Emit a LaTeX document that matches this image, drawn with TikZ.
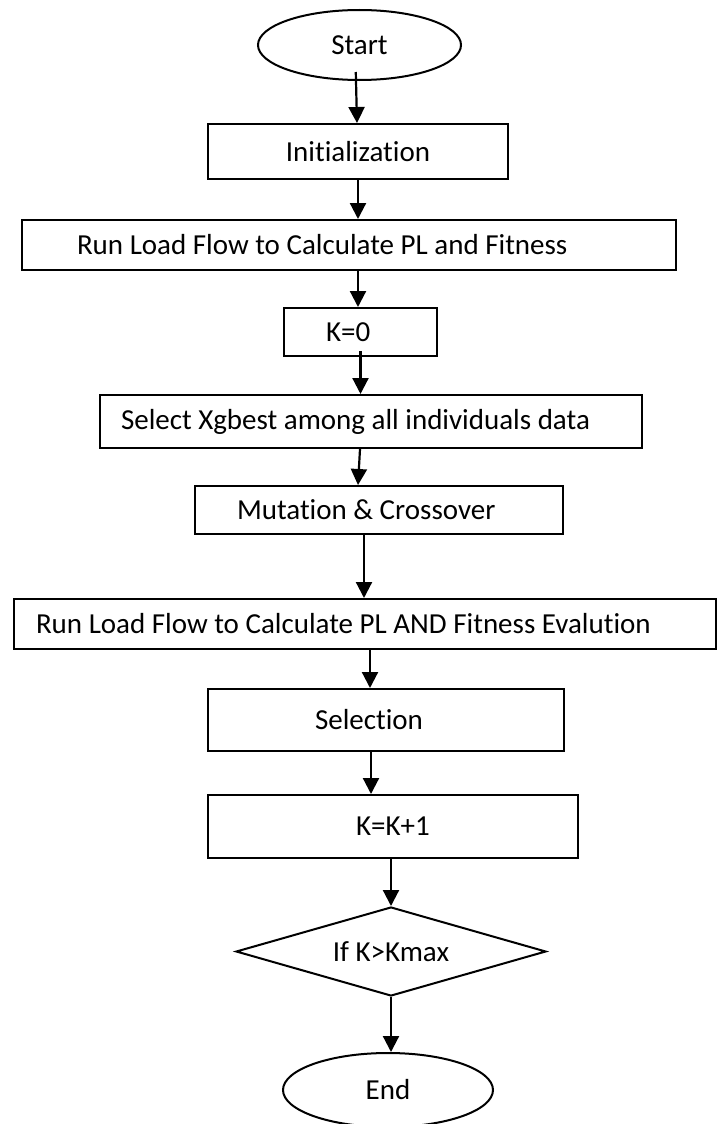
\documentclass[tikz,border=0pt]{standalone}
\usepackage{fontspec}
\setmainfont{Carlito}[Ligatures=NoCommon]
\usetikzlibrary{shapes.geometric,arrows.meta}

\begin{document}
\begin{tikzpicture}[x=1pt,y=-1pt,line width=2pt,
  every node/.style={font=\fontsize{29}{35}\selectfont},
  box/.style={draw,rectangle,anchor=west,inner ysep=2pt,align=flush left},
  arr/.style={-{Triangle[width=16pt,length=16pt]},line width=2.2pt}]
\useasboundingbox (0,0) rectangle (719,1124);
\node [ellipse,draw,minimum width=203pt,minimum height=70pt] (s) at (359.5,45) {Start};
\node [box,align=center,minimum width=300pt,minimum height=55pt] (i) at (207,151.5) {Initialization};
\node [box,text width=544pt,inner xsep=55pt,minimum height=50pt] (r) at (21,245) {Run Load Flow to Calculate PL and Fitness};
\node [box,text width=69pt,inner xsep=42pt,minimum height=48pt] (k) at (283,332) {K=0};
\node [box,text width=500pt,inner xsep=21pt,minimum height=53pt] (x) at (99,421.5) {Select Xgbest among all individuals data};
\node [box,text width=284pt,inner xsep=42pt,minimum height=48pt] (m) at (194,510) {Mutation \& Crossover};
\node [box,text width=658pt,inner xsep=22pt,minimum height=50pt] (f) at (13,624) {Run Load Flow to Calculate PL AND Fitness Evalution};
\node [box,text width=142pt,inner xsep=107pt,minimum height=62pt] (l) at (207,720) {Selection};
\node [box,align=center,minimum width=370pt,minimum height=63pt] (p) at (207,826.5) {K=K+1};
\node [diamond,draw,aspect=3.48,minimum width=310pt,minimum height=89pt] (c) at (391,951.5) {If K>Kmax};
\node [ellipse,draw,minimum width=210pt,minimum height=74pt] (e) at (388,1090) {End};

\draw [arr,shorten <=-9pt] ([xshift=-3.5pt]s.south) -- ([xshift=-1pt]i.north);
\draw [arr] (i.south) -- (i.south |- r.north);
\draw [arr] ([xshift=9pt]r.south) -- ([xshift=-2.5pt]k.north);
\draw [arr,shorten <=-6pt] (k.south) -- (k.south |- x.north);
\draw [arr] ([xshift=-11pt]x.south) -- ([xshift=-21pt]m.north);
\draw [arr] ([xshift=-15pt]m.south) -- ([xshift=-1pt]f.north);
\draw [arr] ([xshift=5pt]f.south) -- ([xshift=-16pt]l.north);
\draw [arr] ([xshift=-15pt]l.south) -- ([xshift=-22pt]p.north);
\draw [arr] (c.north |- p.south) -- (c.north);
\draw [arr] (c.south) -- (c.south |- e.north);
\end{tikzpicture}
\end{document}
